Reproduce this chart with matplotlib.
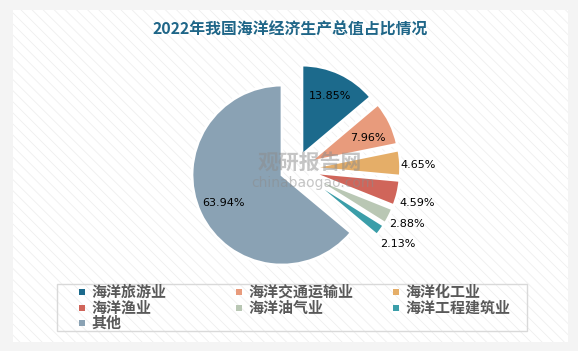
import numpy as np
import matplotlib
matplotlib.use('Agg')
import matplotlib.pyplot as plt
from matplotlib.patches import Rectangle

plt.rcParams['font.family'] = ['Noto Sans CJK SC', 'DejaVu Sans']
plt.rcParams['hatch.linewidth'] = 0.6

# data
title = '2022年我国海洋经济生产总值占比情况'
names = ['海洋旅游业', '海洋交通运输业', '海洋化工业', '海洋渔业', '海洋油气业', '海洋工程建筑业', '其他']
shares = [13.85, 7.96, 4.65, 4.59, 2.88, 2.13, 63.94]
colors = ['#1C6A8C', '#E89B7C', '#E5AE68', '#D0655A', '#B9C7B4', '#3B9EA9', '#8AA2B4']

# label placement (fraction of radius from wedge tip, angle nudge in degrees)
lab_dist = [0.727, 0.706, 1.20, 1.235, 1.215, 1.245, 0.725]
lab_nudge = [-0.4, -3.7, -1.6, -2.5, 0.6, -0.4, 0.2]

W, H = 578, 351
fig = plt.figure(figsize=(W / 100, H / 100), dpi=100, facecolor='#F4F4F4')
ax = fig.add_axes([0, 0, 1, 1])

# panel with faint diagonal stripes
ax.add_patch(Rectangle((13, H - 342), 555, 332, facecolor='white', edgecolor='none', zorder=0))
ax.add_patch(Rectangle((13, H - 342), 555, 332, facecolor='none', edgecolor='#EFEFEF',
                       hatch='\\\\\\', linewidth=0, zorder=0))

ax.text(290, H - 30, title, ha='center', va='center', fontsize=11.4, fontweight='bold', color='#1F6688')

R = 90
cx, cy = 295.6, H - 168.7
# explode is in data units (pixels here)
wedges, _ = ax.pie(shares, colors=colors, startangle=90, counterclock=False, radius=R,
                   center=(cx, cy), explode=[15] * len(shares), frame=True,
                   wedgeprops=dict(edgecolor='white', linewidth=2))
ax.set_xlim(0, W)
ax.set_ylim(0, H)
ax.axis('off')

for w, v, d, n in zip(wedges, shares, lab_dist, lab_nudge):
    ang = np.deg2rad((w.theta1 + w.theta2) / 2 + n)
    x0, y0 = w.center
    ax.text(x0 + d * R * np.cos(ang), y0 + d * R * np.sin(ang), '{:.2f}%'.format(v),
            ha='center', va='center', fontsize=8, color='black', family=['DejaVu Sans'], zorder=5)

# watermark
ax.text(310, H - 162, '观研报告网', ha='center', va='center', fontsize=15, fontweight='bold',
        color='#8C8C8C', alpha=0.5)
ax.text(313, H - 183, 'chinabaogao.com', ha='center', va='center', fontsize=10,
        color='#8C8C8C', alpha=0.5, family=['DejaVu Sans'])

# legend laid out row by row, as in the original
ax.add_patch(Rectangle((57, H - 331), 470, 47, facecolor='none', edgecolor='#D9D9D9', linewidth=1, zorder=3))
for i, (name, col) in enumerate(zip(names, colors)):
    row, c = divmod(i, 3)
    x = 82 + c * 157
    y = H - (292 + row * 15.5)
    ax.add_patch(Rectangle((x - 3, y - 3), 6, 6, facecolor=col, edgecolor='none', zorder=4))
    ax.text(x + 9, y, name, ha='left', va='center', fontsize=10.8, color='#595959', fontweight='bold')

fig.savefig('out.png', dpi=100, facecolor=fig.get_facecolor())
